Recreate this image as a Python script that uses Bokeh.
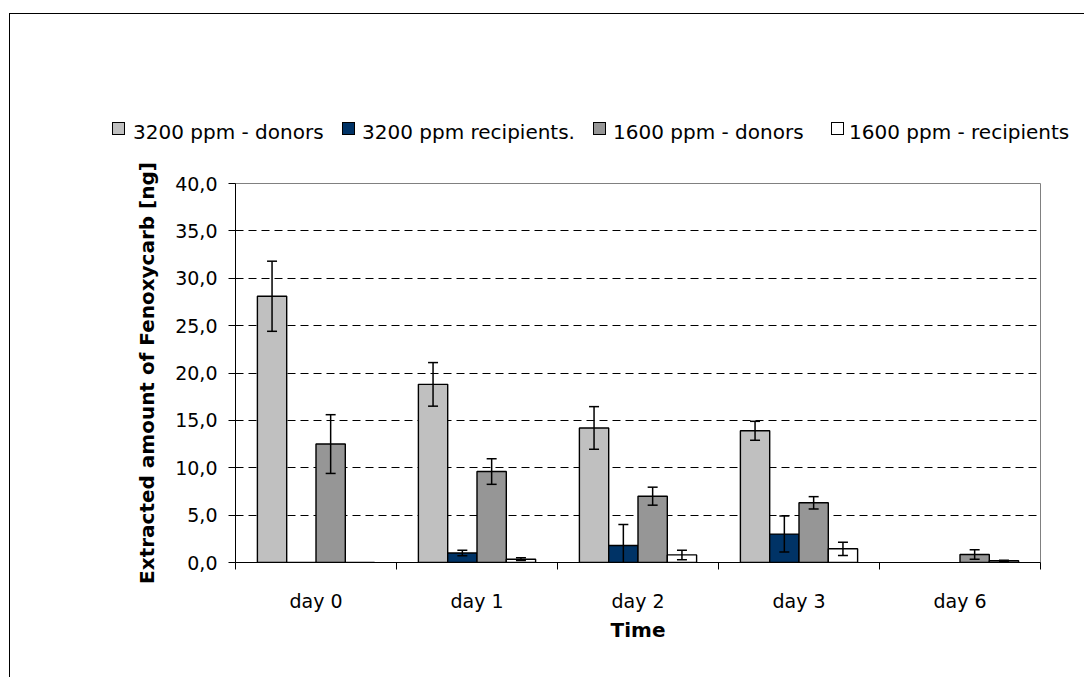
import math
from bokeh.plotting import figure
from bokeh.layouts import column
from bokeh.models import (Range1d, LinearAxis, FixedTicker, Div,
                          ColumnDataSource, CustomJSTickFormatter)
from bokeh.transform import dodge
from bokeh.embed import file_html
from bokeh.resources import INLINE

nan = float("nan")

categories = ["day 0", "day 1", "day 2", "day 3", "day 6"]
series_names = ["3200 ppm - donors", "3200 ppm recipients.", "1600 ppm - donors", "1600 ppm - recipients"]

donors_3200 = [28.1, 18.8, 14.2, 13.9, nan]
err_donors_3200 = [3.7, 2.3, 2.25, 1.0, nan]
recipients_3200 = [0.0, 1.0, 1.8, 3.0, nan]
err_recipients_3200 = [0.0, 0.3, 2.2, 1.9, nan]
donors_1600 = [12.5, 9.6, 7.0, 6.3, 0.85]
err_donors_1600 = [3.1, 1.35, 0.95, 0.65, 0.5]
recipients_1600 = [0.0, 0.35, 0.8, 1.45, 0.18]
err_recipients_1600 = [0.0, 0.15, 0.5, 0.7, 0.05]

y_ticks = [0, 5, 10, 15, 20, 25, 30, 35, 40]
grid_ticks = [5, 10, 15, 20, 25, 30, 35]

series_values = [donors_3200, recipients_3200, donors_1600, recipients_1600]
series_errors = [err_donors_3200, err_recipients_3200, err_donors_1600, err_recipients_1600]
series_colors = ["#C0C0C0", "#003366", "#969696", "#FFFFFF"]

FONT = "DejaVu Sans"
BAR_W = 0.182
CAP_HALF = 0.031

# legend layout (pixels inside the legend strip): swatch left, text left
legend_swatch_x = [102, 332, 583, 821]
legend_text_x = [123, 352, 603, 839]
LEGEND_SWATCH_TOP = 108
LEGEND_TEXT_TOP = 106

# category centres on a numeric axis (one unit per category)
cat_pos = [i + 0.5 for i in range(len(categories))]
edge_pos = list(range(len(categories) + 1))

# ---------------- legend strip ----------------
parts = ['<div style="position:relative;width:1074px;height:145px;background:#ffffff;">']
for name, color, sx, tx in zip(series_names, series_colors, legend_swatch_x, legend_text_x):
    parts.append(
        f'<div style="position:absolute;left:{sx}px;top:{LEGEND_SWATCH_TOP}px;width:13px;height:13px;'
        f'box-sizing:border-box;border:1px solid #000000;background:{color};"></div>')
    parts.append(
        f'<div style="position:absolute;left:{tx}px;top:{LEGEND_TEXT_TOP}px;height:24px;line-height:24px;'
        f'font-family:\'{FONT}\';font-size:20px;color:#000000;white-space:nowrap;">{name}</div>')
parts.append('</div>')
legend_div = Div(text="".join(parts), width=1074, height=145, margin=0)

# ---------------- main chart ----------------
p = figure(x_range=Range1d(0, len(categories)), y_range=Range1d(0, 40),
           width=1074, height=518, min_border_left=225, min_border_right=44,
           min_border_top=24, min_border_bottom=115,
           output_backend="svg", toolbar_location=None, x_axis_location=None)

p.outline_line_color = "#808080"
p.outline_line_width = 1
p.background_fill_color = "white"
p.border_fill_color = "white"

p.xgrid.visible = False
p.ygrid.ticker = FixedTicker(ticks=grid_ticks)
p.ygrid.grid_line_color = "#000000"
p.ygrid.grid_line_dash = "8 5"
p.ygrid.grid_line_width = 1

# y axis
yax = p.yaxis[0]
yax.ticker = FixedTicker(ticks=y_ticks)
yax.formatter = CustomJSTickFormatter(code="return tick.toFixed(1).replace('.', ',');")
yax.major_tick_out = 7
yax.major_tick_in = 0
yax.minor_tick_out = 0
yax.minor_tick_in = 0
yax.axis_line_color = "#000000"
yax.major_tick_line_color = "#000000"
yax.major_label_text_font = FONT
yax.major_label_text_font_size = "19px"
yax.major_label_text_color = "#000000"
yax.major_label_standoff = 11
yax.axis_label = "Extracted amount of Fenoxycarb [ng]"
yax.axis_label_text_font = FONT
yax.axis_label_text_font_size = "20px"
yax.axis_label_text_font_style = "bold"
yax.axis_label_text_color = "#000000"
yax.axis_label_standoff = 13

# x axis: ticks at category boundaries
edge_axis = LinearAxis(ticker=FixedTicker(ticks=edge_pos))
edge_axis.major_tick_out = 7
edge_axis.major_tick_in = 0
edge_axis.minor_tick_out = 0
edge_axis.minor_tick_in = 0
edge_axis.axis_line_color = "#000000"
edge_axis.major_tick_line_color = "#000000"
edge_axis.major_label_text_font_size = "0px"
edge_axis.major_label_standoff = 0
edge_axis.formatter = CustomJSTickFormatter(code="return '';")
p.add_layout(edge_axis, "below")

# x axis: category labels at centres
cat_axis = LinearAxis(ticker=FixedTicker(ticks=cat_pos),
                      major_label_overrides={pos: name for pos, name in zip(cat_pos, categories)})
cat_axis.axis_line_color = None
cat_axis.major_tick_line_color = None
cat_axis.minor_tick_line_color = None
cat_axis.major_tick_out = 0
cat_axis.major_tick_in = 0
cat_axis.major_label_text_font = FONT
cat_axis.major_label_text_font_size = "19px"
cat_axis.major_label_text_color = "#000000"
cat_axis.major_label_standoff = 20
cat_axis.axis_label = "Time"
cat_axis.axis_label_text_font = FONT
cat_axis.axis_label_text_font_size = "20px"
cat_axis.axis_label_text_font_style = "bold"
cat_axis.axis_label_text_color = "#000000"
cat_axis.axis_label_standoff = 3
p.add_layout(cat_axis, "below")

for i, (name, vals, errs, color) in enumerate(zip(series_names, series_values, series_errors, series_colors)):
    off = (i - 1.5) * BAR_W
    src = ColumnDataSource(dict(x=cat_pos, top=vals))
    p.vbar(x=dodge("x", off), top="top", width=BAR_W, bottom=0, source=src,
           fill_color=color, line_color="#000000", line_width=1.4)
    ex, lo, hi = [], [], []
    for c, v, e in zip(cat_pos, vals, errs):
        if e is None or (isinstance(e, float) and math.isnan(e)) or e == 0:
            continue
        ex.append(c); lo.append(v - e); hi.append(v + e)
    esrc = ColumnDataSource(dict(x=ex, lo=lo, hi=hi))
    p.segment(x0=dodge("x", off), x1=dodge("x", off),
              y0="lo", y1="hi", source=esrc, line_color="#000000", line_width=1.5)
    p.segment(x0=dodge("x", off - CAP_HALF), x1=dodge("x", off + CAP_HALF),
              y0="hi", y1="hi", source=esrc, line_color="#000000", line_width=1.5)
    p.segment(x0=dodge("x", off - CAP_HALF), x1=dodge("x", off + CAP_HALF),
              y0="lo", y1="lo", source=esrc, line_color="#000000", line_width=1.5)

layout = column(legend_div, p, spacing=0)
layout.styles = {"border-top": "1px solid #000000", "border-left": "1px solid #000000",
                 "margin-top": "13px", "margin-left": "9px"}

open("out.html", "w").write(file_html(layout, INLINE))
